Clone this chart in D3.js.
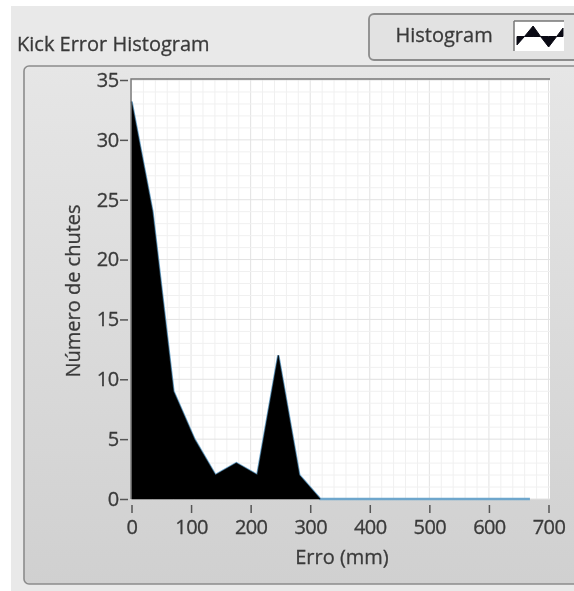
<!DOCTYPE html>
<html><head><meta charset="utf-8">
<script src="https://cdn.jsdelivr.net/npm/d3@7"></script>
<style>html,body{margin:0;padding:0;background:#fff}svg{display:block;filter:blur(.6px)}text{font-family:"Open Sans","Noto Sans",sans-serif;fill:#3a3a3a;stroke:#3a3a3a;stroke-width:.3px}</style>
</head><body><script>
const errorMm=[0,35.2,70.4,105.6,140.8,176,211.2,246.4,281.6,316.8,352,387.2,422.4,457.6,492.8,528,563.2,598.4,633.6,668.8];
const kicks=[33.2,24,9,5,2,3,2,12,2,0,0,0,0,0,0,0,0,0,0,0];
const xTicks=[0,100,200,300,400,500,600,700];
const yTicks=[0,5,10,15,20,25,30,35];
const legendXs=[0,0.65,1.4,2.05,2.75,3.45,4];
const legendVals=[-0.8,0,1,0,-1,0,0.8];
const titleText="Kick Error Histogram",legendText="Histogram",xTitle="Erro (mm)",yTitle="Número de chutes";

const svg=d3.select("body").append("svg").attr("width",574).attr("height",591);
svg.append("rect").attr("x",11).attr("y",6).attr("width",563).attr("height",585).attr("fill","#e9e9e9");
const grad=svg.append("defs").append("linearGradient").attr("id","panel").attr("x1",0).attr("y1",0).attr("x2",0).attr("y2",1);
grad.append("stop").attr("offset",0).attr("stop-color","#e6e6e6");
grad.append("stop").attr("offset",1).attr("stop-color","#d0d0d0");
svg.append("rect").attr("x",24).attr("y",66).attr("width",570).attr("height",518).attr("rx",5)
  .attr("fill","url(#panel)").attr("stroke","#8c8c8c").attr("stroke-width",1.6);
svg.append("text").attr("x",17).attr("y",50.5).attr("font-size",20).text(titleText);

// legend
svg.append("rect").attr("x",369).attr("y",14).attr("width",215).attr("height",46).attr("rx",5)
  .attr("fill","#e2e2e2").attr("stroke","#8c8c8c").attr("stroke-width",1.8);
svg.append("text").attr("x",395.5).attr("y",42).attr("font-size",20).text(legendText);
const lg=svg.append("g");
lg.append("rect").attr("x",514).attr("y",21).attr("width",50).attr("height",30).attr("fill","#fff");
lg.append("path").attr("d","M514 21H564M514 21V51").attr("stroke","#777").attr("stroke-width",1.5).attr("fill","none");
const legendX=d3.scaleLinear().domain([0,4]).range([517,563]);
const legendY=d3.scaleLinear().domain([-1,1]).range([47,26]);
const legendPts=legendXs.map((x,i)=>[x,legendVals[i]]);
lg.append("path").datum(legendPts)
  .attr("d",d3.area().x(d=>legendX(d[0])).y0(legendY(0)).y1(d=>legendY(d[1])))
  .attr("fill","#0a0a14").attr("stroke","#0a0a14").attr("stroke-width",1);

const x=d3.scaleLinear().domain([0,700]).range([131.5,548.5]);
const y=d3.scaleLinear().domain([0,35]).range([499,80]);
const g=svg.append("g");
g.append("rect").attr("x",131).attr("y",79).attr("width",419).attr("height",420).attr("fill","#fff");
const xMinor=d3.range(0,701,20), yMinor=d3.range(0,35.01,1);
g.selectAll(".vm").data(xMinor).join("line").attr("x1",d=>x(d)).attr("x2",d=>x(d)).attr("y1",79).attr("y2",499).attr("stroke",d=>d%100===0?"#e2e2e2":"#f0f0f0").attr("stroke-width",1);
g.selectAll(".hm").data(yMinor).join("line").attr("y1",d=>y(d)).attr("y2",d=>y(d)).attr("x1",131).attr("x2",550).attr("stroke",d=>d%5===0?"#e2e2e2":"#f0f0f0").attr("stroke-width",1);
const pts=errorMm.map((e,i)=>[e,kicks[i]]);
const areaGen=d3.area().x(d=>x(d[0])).y0(y(0)).y1(d=>y(d[1]));
const lineGen=d3.line().x(d=>x(d[0])).y(d=>y(d[1]));
g.append("path").datum(pts).attr("d",lineGen).attr("fill","none").attr("stroke","#6ea6cc").attr("stroke-width",2.4);
g.append("path").datum(pts.filter(d=>d[1]>0||d[0]<320)).attr("d",areaGen).attr("fill","#000").attr("stroke","#000").attr("stroke-width",.6);
g.append("path").attr("d","M131 499V79H550").attr("fill","none").attr("stroke","#777").attr("stroke-width",1.4);

const xa=svg.append("g").attr("transform","translate(0,505)").call(d3.axisBottom(x).tickValues(xTicks).tickSize(8).tickPadding(7).tickFormat(d3.format("d")));
xa.select(".domain").remove();
xa.selectAll("line").attr("stroke","#555").attr("stroke-width",1.5);
xa.selectAll("text").attr("font-size",20).attr("letter-spacing",-0.6).attr("font-family",'"Open Sans",sans-serif');
const ya=svg.append("g").attr("transform","translate(128,0)").call(d3.axisLeft(y).tickValues(yTicks).tickSize(8).tickPadding(1).tickFormat(d3.format("d")));
ya.select(".domain").remove();
ya.selectAll("line").attr("stroke","#555").attr("stroke-width",1.5);
ya.selectAll("text").attr("font-size",20).attr("letter-spacing",-0.3).attr("font-family",'"Open Sans",sans-serif');
svg.append("text").attr("x",342).attr("y",564).attr("text-anchor","middle").attr("font-size",20).text(xTitle);
svg.append("text").attr("transform","translate(80,291) rotate(-90)").attr("text-anchor","middle").attr("font-size",20).text(yTitle);
</script></body></html>
